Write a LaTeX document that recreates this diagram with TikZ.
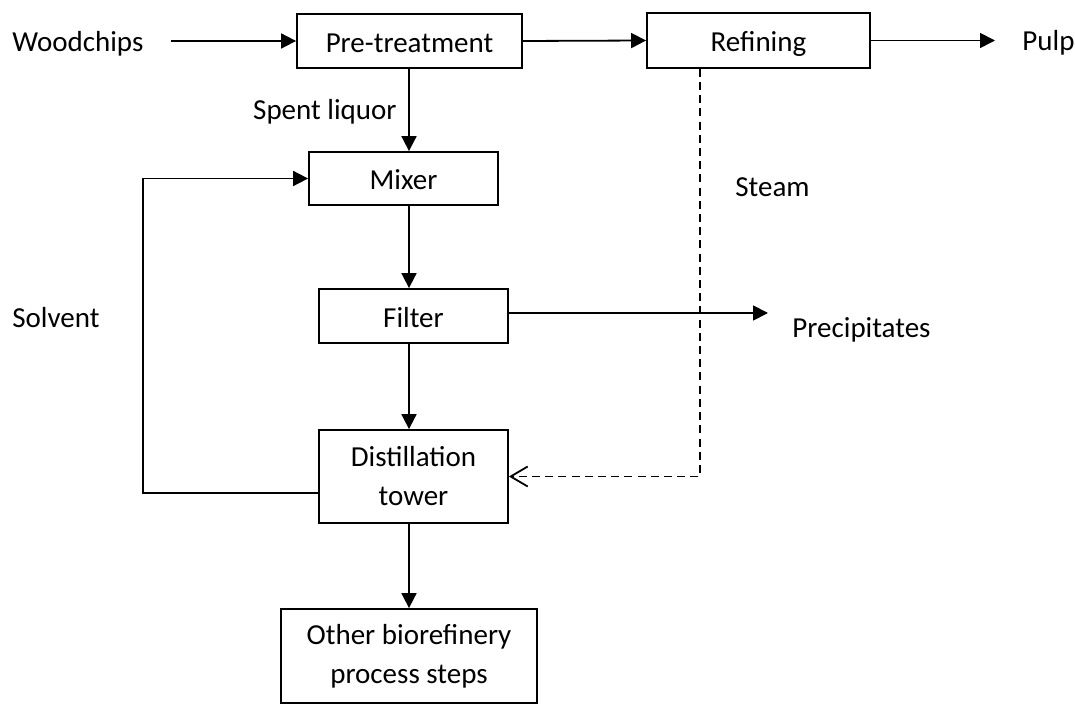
\documentclass[tikz,border=0pt]{standalone}
\usepackage{fontspec}
\setmainfont{Carlito}
\usetikzlibrary{arrows.meta}
\begin{document}
\begin{tikzpicture}[x=0.5pt,y=-0.5pt,
  every node/.style={font=\fontsize{14.5}{19.5}\selectfont, inner sep=0pt},
  box/.style={draw, line width=0.9pt, rectangle, align=center, text height=11.3pt, text depth=0pt},
  mbox/.style={draw, line width=0.9pt, rectangle, align=center},
  lbl/.style={anchor=base west},
  arr/.style={line width=0.9pt, -{Triangle[length=7.5pt,width=7.5pt]}},
  darr/.style={line width=0.9pt, dash pattern=on 4pt off 2.6pt, -{Straight Barb[length=8.5pt,width=10pt,line width=0.9pt]}}
]
\useasboundingbox (0,0) rectangle (1075,705);
% boxes
\node[box, minimum width=112.5pt, minimum height=27pt] (pre) at (409.5,41) {Pre-treatment};
\node[box, minimum width=111.5pt, minimum height=27.5pt] (ref) at (758.5,40.5) {Refining};
\node[box, minimum width=94.5pt, minimum height=26.5pt] (mix) at (403.5,178.5) {Mixer};
\node[box, minimum width=94.5pt, minimum height=27pt] (fil) at (413.5,316) {Filter};
\node[mbox, minimum width=94.5pt, minimum height=46.5pt] (dis) at (413.5,476.5) {Distillation\\tower};
\node[mbox, minimum width=128pt, minimum height=47pt] (oth) at (409,656) {Other biorefinery\\process steps};
% labels
\node[lbl] (wood) at (12,52) {Woodchips};
\node[lbl] (pulp) at (1022,51) {Pulp};
\node[lbl] (prec) at (792,338) {Precipitates};
\node[lbl] (solv) at (12,328) {Solvent};
\node[lbl] (steam) at (735,197) {Steam};
\node[anchor=base east] (spent) at (397,120) {Spent liquor};
% helper coordinates
\coordinate (col) at (409,0);
\coordinate (stx) at (700,0);
\coordinate (lp) at (143,493);
% connectors
\draw[arr, shorten <=13.5pt] (wood.east |- pre.west) -- (pre.west);
\draw[arr] (pre.east) -- (ref.west);
\draw[arr, shorten >=13.5pt] (ref.east) -- (ref.east -| pulp.west);
\draw[arr] (pre.south -| col) -- (mix.north -| col);
\draw[arr] (mix.south -| col) -- (fil.north -| col);
\draw[arr] (fil.south -| col) -- (dis.north -| col);
\draw[arr] (dis.south -| col) -- (oth.north -| col);
\draw[arr, shorten >=12pt] ([yshift=1.5pt]fil.east) -- ([yshift=1.5pt]fil.east -| prec.west);
\draw[arr] (dis.west |- lp) -- (lp) |- (mix.west);
\draw[darr] (ref.south -| stx) |- (dis.east);
\end{tikzpicture}
\end{document}
